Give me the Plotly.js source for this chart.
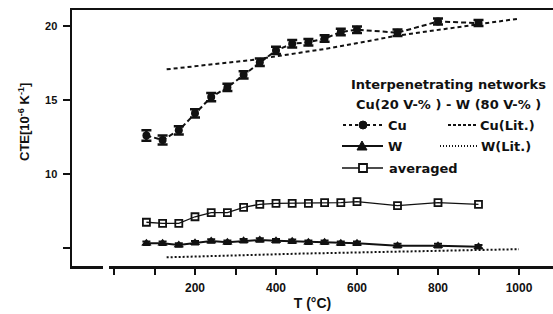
<!DOCTYPE html>
<html>
<head>
<meta charset="utf-8">
<script src="https://cdn.plot.ly/plotly-3.0.1.min.js"></script>
<style>html,body{margin:0;padding:0;background:#fff;}#chart{width:553px;height:314px;}</style>
</head>
<body>
<div id="chart"></div>
<script>
// ---- data ----
const temps = [80,120,160,200,240,280,320,360,400,440,480,520,560,600,700,800,900];
const cuValues = [12.6,12.3,12.95,14.1,15.2,15.85,16.7,17.55,18.35,18.8,18.9,19.15,19.6,19.75,19.55,20.3,20.2];
const cuErrors = [0.35,0.3,0.28,0.28,0.28,0.25,0.25,0.25,0.25,0.25,0.22,0.22,0.22,0.22,0.22,0.2,0.2];
const wValues = [5.32,5.32,5.2,5.36,5.47,5.39,5.49,5.54,5.49,5.45,5.39,5.39,5.32,5.32,5.16,5.16,5.09];
const wErrors = [0.12,0.12,0.12,0.12,0.12,0.12,0.12,0.12,0.12,0.12,0.12,0.12,0.12,0.12,0.12,0.12,0.12];
const avgValues = [6.74,6.67,6.67,7.11,7.39,7.39,7.75,7.95,8.02,8.02,8.02,8.06,8.06,8.13,7.86,8.06,7.95];
const cuLitTemps = [130,340,530,700,1000];
const cuLitValues = [17.07,17.7,18.49,19.35,20.5];
const wLitTemps = [130,460,1000];
const wLitValues = [4.37,4.62,4.92];
const xTickVals = [200,400,600,800,1000];
const xTickText = ['200','400','600','800','1000'];
const xMinorTicks = [0,100,300,500,700,900];
const yTickVals = [10,15,20];
const yTickText = ['10','15','20'];
const yMinorTicks = [5];
const legendTitle = 'Interpenetrating networks';
const legendSub = 'Cu(20 V-% ) - W (80 V-% )';

// ---- layout geometry (pixels) ----
const W = 553, H = 314, L = 72, R = 553, T = 10, B = 266;
const px = x => (x - L) / (R - L);
const py = y => (B - y) / (B - T);
const FONT = 'Liberation Sans, Arial, sans-serif';
const LFONT = 'DejaVu Sans, Liberation Sans, sans-serif';
const ink = '#111';

const traces = [
  {x: cuLitTemps, y: cuLitValues, mode: 'lines', name: 'Cu(Lit.)',
   line: {color: ink, width: 2, dash: '4px,3px'}, showlegend: false},
  {x: wLitTemps, y: wLitValues, mode: 'lines', name: 'W(Lit.)',
   line: {color: ink, width: 2, dash: '2px,2px'}, showlegend: false},
  {x: temps, y: cuValues, mode: 'lines+markers', name: 'Cu',
   line: {color: ink, width: 2, dash: '5px,3px'},
   marker: {symbol: 'circle', size: 8, color: ink},
   error_y: {type: 'data', array: cuErrors, visible: true, color: ink, thickness: 2.5, width: 5},
   showlegend: false},
  {x: temps, y: wValues, mode: 'lines+markers', name: 'W',
   line: {color: ink, width: 2},
   marker: {symbol: 'triangle-up', size: 9, color: ink},
   error_y: {type: 'data', array: wErrors, visible: true, color: ink, thickness: 2, width: 4},
   showlegend: false},
  {x: temps, y: avgValues, mode: 'lines+markers', name: 'averaged',
   line: {color: ink, width: 1.3},
   marker: {symbol: 'square-open', size: 7, color: ink, line: {width: 1.8, color: ink}},
   showlegend: false}
];

// legend drawn manually
const shapes = [];
const annotations = [];
function seg(x0, x1, y, dash, width) {
  shapes.push({type: 'line', xref: 'paper', yref: 'paper', x0: px(x0), x1: px(x1), y0: py(y), y1: py(y),
    line: {color: ink, width: width || 2, dash: dash || 'solid'}});
}
function label(text, x, y, anchor, size) {
  annotations.push({text: text, xref: 'paper', yref: 'paper', x: px(x), y: py(y), xanchor: anchor || 'left',
    yanchor: 'middle', showarrow: false, font: {family: LFONT, size: size || 13, color: ink, weight: 'bold'}});
}
label(legendTitle, 448, 84, 'center', 13);
label(legendSub, 448, 104, 'center', 13);
// Cu row
seg(343, 382, 125, '3px,3px', 2);
shapes.push({type: 'circle', xref: 'paper', yref: 'paper', x0: px(359), x1: px(367), y0: py(121), y1: py(129),
  fillcolor: ink, line: {color: ink, width: 1}});
label('Cu', 386, 125);
seg(448, 477, 125, '3px,2px', 2);
label('Cu(Lit.)', 478, 125);
// W row
seg(342, 383, 146, 'solid', 2);
shapes.push({type: 'path', xref: 'paper', yref: 'paper',
  path: `M ${px(357)} ${py(150)} L ${px(367)} ${py(150)} L ${px(362)} ${py(141)} Z`,
  fillcolor: ink, line: {color: ink, width: 1}});
label('W', 386, 146);
seg(440, 477, 146, '1px,2px', 2);
label('W(Lit.)', 479, 146);
// averaged row
seg(342, 383, 168, 'solid', 1.5);
shapes.push({type: 'rect', xref: 'paper', yref: 'paper', x0: px(359), x1: px(367), y0: py(164), y1: py(172),
  fillcolor: '#fff', line: {color: ink, width: 1.8}});
label('averaged', 387, 168);
// broken x axis line
shapes.push({type: 'rect', xref: 'paper', yref: 'paper', x0: px(103), x1: px(109), y0: py(270), y1: py(262),
  fillcolor: '#fff', line: {width: 0}, layer: 'above'});
// y axis title
annotations.push({text: 'CTE[10<sup>-6</sup> K<sup>-1</sup>]', xref: 'paper', yref: 'paper',
  x: px(24), y: py(122), xanchor: 'center', yanchor: 'middle', textangle: -90, showarrow: false,
  font: {family: FONT, size: 13, color: ink, weight: 'bold'}});

const xRange = [(L - 114) / 0.405, (R - 114) / 0.405];
const yRange = [5 - (B - 248) / 14.8, 5 + (248 - T) / 14.8];

const layout = {
  width: W, height: H,
  margin: {l: L, r: W - R, t: T, b: H - B, pad: 0},
  paper_bgcolor: '#fff', plot_bgcolor: '#fff',
  showlegend: false,
  font: {family: FONT, color: ink},
  xaxis: {range: xRange, showgrid: false, zeroline: false, showline: true, mirror: true,
    linecolor: ink, linewidth: 2.5, ticks: 'outside', ticklen: 6, tickwidth: 2, tickcolor: ink,
    tickmode: 'array', tickvals: xTickVals, ticktext: xTickText, ticklabelstandoff: 3,
    minor: {tickmode: 'array', tickvals: xMinorTicks, ticks: 'outside', ticklen: 6, tickwidth: 2, tickcolor: ink, showgrid: false},
    tickfont: {family: FONT, size: 12, color: ink, weight: 'bold'},
    title: {text: 'T (°C)', standoff: 5, font: {family: FONT, size: 14, color: ink, weight: 'bold'}}},
  yaxis: {range: yRange, showgrid: false, zeroline: false, showline: true, mirror: false,
    linecolor: ink, linewidth: 2.5, ticks: 'outside', ticklen: 7, tickwidth: 2, tickcolor: ink,
    tickmode: 'array', tickvals: yTickVals, ticktext: yTickText, ticklabelstandoff: 3,
    minor: {tickmode: 'array', tickvals: yMinorTicks, ticks: 'outside', ticklen: 7, tickwidth: 2, tickcolor: ink, showgrid: false},
    tickfont: {family: FONT, size: 11, color: ink, weight: 'bold'}},
  shapes: shapes,
  annotations: annotations
};

Plotly.newPlot('chart', traces, layout, {staticPlot: true, displayModeBar: false});
</script>
</body>
</html>
